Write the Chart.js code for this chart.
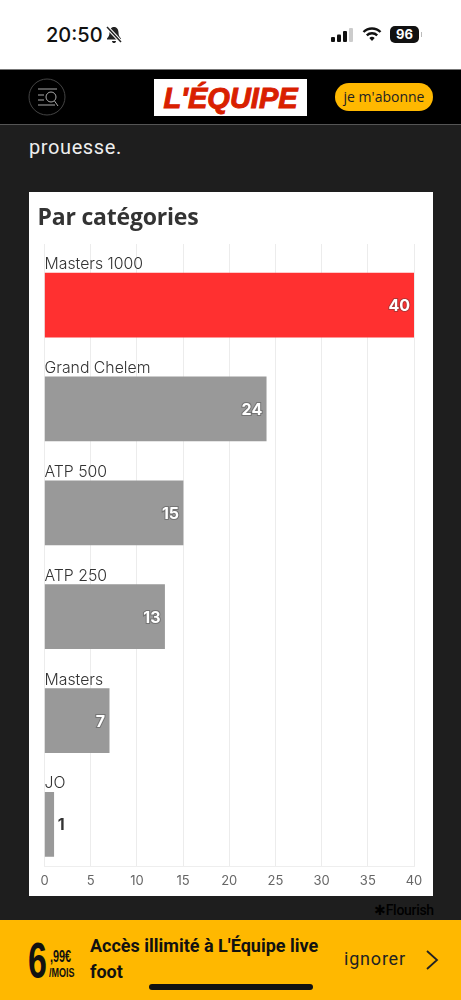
<!DOCTYPE html>
<html lang="fr">
<head>
<meta charset="utf-8">
<title>Par catégories</title>
<script src="https://cdn.jsdelivr.net/npm/chart.js@4"></script>
<style>
  html, body { margin: 0; padding: 0; width: 461px; height: 1000px; overflow: hidden; background: #1e1e1e; }
  body { position: relative; font-family: "Roboto", sans-serif; }
  .abs { position: absolute; white-space: nowrap; }
  #status { left: 0; top: 0; width: 461px; height: 69px; background: #fff; }
  #nav { left: 0; top: 69px; width: 461px; height: 56px; background: #000; border-top: 1px solid #777; border-bottom: 1px solid #555; box-sizing: border-box; }
  #card { left: 28.5px; top: 192px; width: 404px; height: 704px; background: #fff; }
  #chartBox { position: absolute; left: 0; top: 0; width: 404px; height: 704px; }
  #banner { left: 0; top: 920px; width: 461px; height: 80px; background: #ffb800; }
  .narrow { font-family: "Liberation Sans", sans-serif; font-weight: 700; color: #111; transform-origin: left top; }
</style>
</head>
<body>
<div id="status" class="abs">
  <div class="abs" style="left:46px;top:21px;font:500 20px/28px Inter,sans-serif;color:#111">20:50</div>
  <svg class="abs" style="left:105px;top:25px" width="18" height="20" viewBox="0 0 18 20">
    <path d="M9 2c3 0 4.500 2.500 4.500 5.500 0 3 1 4.500 2.500 6v1H2v-1c1.500-1.500 2.500-3 2.500-6C4.500 4.500 6 2 9 2z M7 16h4c0 1.500-1 2-2 2s-2-.5-2-2z" fill="#222"/>
    <path d="M2 2l14 15" stroke="#fff" stroke-width="3.500"/><path d="M2 2l14 15" stroke="#222" stroke-width="1.500"/>
  </svg>
  <svg class="abs" style="left:330px;top:27px" width="24" height="16" viewBox="0 0 24 16">
    <rect x="1" y="10" width="4" height="5" rx="1" fill="#111"/><rect x="7" y="7.500" width="4" height="7.500" rx="1" fill="#111"/>
    <rect x="13" y="4" width="4" height="11" rx="1" fill="#111"/><rect x="19" y="1" width="4" height="14" rx="1" fill="#ccc"/>
  </svg>
  <svg class="abs" style="left:362px;top:26px" width="20" height="16" viewBox="0 0 20 16">
    <path d="M1.500 6a12 12 0 0 1 17 0" fill="none" stroke="#111" stroke-width="2.400"/>
    <path d="M4.800 9.300a7.500 7.500 0 0 1 10.400 0" fill="none" stroke="#111" stroke-width="2.400"/>
    <path d="M10 15l-2.700-3a4 4 0 0 1 5.400 0z" fill="#111"/>
  </svg>
  <div class="abs" style="left:390px;top:26px;width:29px;height:17px;background:#111;border-radius:5px;color:#fff;font:700 13px/17px Inter,sans-serif;text-align:center">96</div>
  <div class="abs" style="left:420.500px;top:32px;width:1.500px;height:5px;background:#bbb"></div>
</div>

<div id="nav" class="abs">
  <svg class="abs" style="left:28px;top:8px" width="38" height="38" viewBox="0 0 38 38">
    <circle cx="19" cy="19" r="18" fill="none" stroke="#444"/>
    <path d="M10 11h19M10 17h6M10 22h6M10 27h17" stroke="#aaa" stroke-width="1"/>
    <circle cx="23" cy="19" r="5" fill="none" stroke="#aaa"/><path d="M26.500 23l3.500 5" stroke="#aaa"/>
  </svg>
  <div class="abs" style="left:154px;top:9px;width:153px;height:37px;background:#fff;color:#d92000;font:italic 700 29px/38px 'Liberation Sans',sans-serif;text-align:center;-webkit-text-stroke:1px #d92000">L'ÉQUIPE</div>
  <div class="abs" style="left:335px;top:13px;width:98px;height:28px;background:#ffb800;border-radius:14px;color:#222;font:400 14px/28px 'Open Sans',sans-serif;text-align:center">je m'abonne</div>
</div>

<div class="abs" style="left:29px;top:133px;font:400 20px/28px Roboto,sans-serif;letter-spacing:.6px;color:#eee">prouesse.</div>

<div id="card" class="abs">
  <div id="chartBox"><canvas id="chart" width="404" height="704"></canvas></div>
  <div class="abs" style="left:9px;top:8px;font:700 23px/32px 'Open Sans',sans-serif;color:#333;letter-spacing:-.2px">Par catégories</div>
</div>

<div class="abs" style="left:374px;top:902px;font:500 14px/17px Roboto,sans-serif;color:#000;letter-spacing:-.3px">✱Flourish</div>

<div id="banner" class="abs">
  <div class="abs narrow" style="left:28px;top:13px;font-size:50px;line-height:56px;transform:scaleX(.68)">6</div>
  <div class="abs narrow" style="left:50px;top:28px;font-size:16px;line-height:18px;transform:scaleX(.68)">,99€</div>
  <div class="abs narrow" style="left:49px;top:45px;font-size:12.500px;line-height:16px;transform:scaleX(.72)">/MOIS</div>
  <div class="abs" style="left:90px;top:13px;width:250px;white-space:normal;font:700 18px/26px Roboto,sans-serif;color:#111">Accès illimité à L'Équipe live foot</div>
  <div class="abs" style="left:344px;top:26px;font:400 18px/26px Roboto,sans-serif;letter-spacing:.8px;color:#222">ignorer</div>
  <svg class="abs" style="left:424px;top:28px" width="16" height="24" viewBox="0 0 16 24"><path d="M3 3l10 9-10 9" fill="none" stroke="#222" stroke-width="1.800"/></svg>
  <div class="abs" style="left:149px;top:64px;width:164px;height:6px;background:#111;border-radius:3px"></div>
</div>

<script>
const categories = ['Masters 1000', 'Grand Chelem', 'ATP 500', 'ATP 250', 'Masters', 'JO'];
const values = [40, 24, 15, 13, 7, 1];
const barColors = ['#ff3030', '#999999', '#999999', '#999999', '#999999', '#999999'];
const xTicks = [0, 5, 10, 15, 20, 25, 30, 35, 40];

// category names above the bars, values at the end of them
const barLabels = {
  id: 'barLabels',
  afterDatasetsDraw(chart) {
    const ctx = chart.ctx;
    const bars = chart.getDatasetMeta(0).data;
    ctx.save();
    ctx.textBaseline = 'alphabetic';
    bars.forEach((bar, i) => {
      const top = bar.y - bar.height / 2;
      ctx.font = '300 15.8px Inter, sans-serif';
      ctx.fillStyle = '#333';
      ctx.textAlign = 'left';
      ctx.fillText(categories[i], chart.scales.x.getPixelForValue(0), top - 4);

      ctx.font = '700 16px Inter, sans-serif';
      const y = bar.y + 6;
      if (bar.width > 20) {
        ctx.textAlign = 'right';
        ctx.lineWidth = 2;
        ctx.strokeStyle = 'rgba(60,60,60,0.4)';
        ctx.strokeText(values[i], bar.x - 4, y);
        ctx.fillStyle = '#fff';
        ctx.fillText(values[i], bar.x - 4, y);
      } else {
        ctx.textAlign = 'left';
        ctx.fillStyle = '#333';
        ctx.fillText(values[i], bar.x + 4, y);
      }
    });
    ctx.restore();
  }
};

new Chart(document.getElementById('chart'), {
  type: 'bar',
  data: {
    datasets: [{
      data: categories.map((c, i) => ({ x: values[i], y: i })),
      backgroundColor: barColors,
      barThickness: 64
    }]
  },
  options: {
    indexAxis: 'y',
    responsive: false,
    animation: false,
    layout: { padding: { left: 15.5, right: 19, top: 52, bottom: 0 } },
    plugins: { legend: { display: false }, tooltip: { enabled: false } },
    scales: {
      x: {
        type: 'linear',
        min: 0,
        max: 40,
        afterBuildTicks(axis) { axis.ticks = xTicks.map(v => ({ value: v })); },
        grid: { color: '#ececec', drawTicks: false },
        border: { color: '#eeeeee' },
        ticks: { color: '#666', padding: 7, maxRotation: 0, font: { family: 'Inter, sans-serif', size: 13 } }
      },
      y: {
        type: 'linear',
        offset: false,
        reverse: true,
        min: -0.588,
        max: 5.404,
        display: false
      }
    }
  },
  plugins: [barLabels]
});
</script>
</body>
</html>
